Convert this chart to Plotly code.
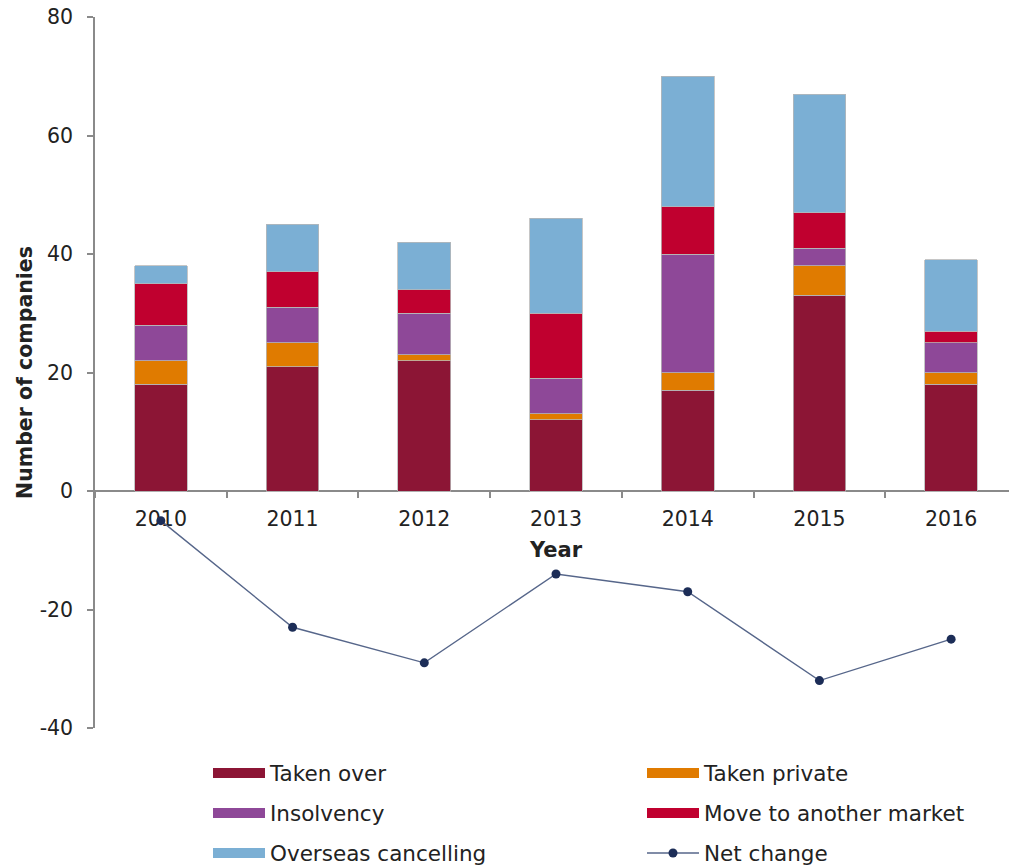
import plotly.graph_objects as go

# ---------- data ----------
years = ["2010", "2011", "2012", "2013", "2014", "2015", "2016"]
taken_over = [18, 21, 22, 12, 17, 33, 18]
taken_private = [4, 4, 1, 1, 3, 5, 2]
insolvency = [6, 6, 7, 6, 20, 3, 5]
move_market = [7, 6, 4, 11, 8, 6, 2]
overseas = [3, 8, 8, 16, 22, 20, 12]
net_change = [-5, -23, -29, -14, -17, -32, -25]

y_ticks = [-40, -20, 0, 20, 40, 60, 80]
y_ticktext = ["-40", "-20", "0", "20", "40", "60", "80"]

SERIES = [
    ("Taken over", taken_over, "#8c1535"),
    ("Taken private", taken_private, "#e07b00"),
    ("Insolvency", insolvency, "#8e4898"),
    ("Move to another market", move_market, "#c0002f"),
    ("Overseas cancelling", overseas, "#7bafd4"),
]

FONT = "DejaVu Sans"
TXT = "#222222"
AX = "#8a8a8a"

# page body adds an 8px offset, so layout is set in figure px = screen px - 8
OFF = 8
PLOT_L, PLOT_R, PLOT_T, PLOT_B = 95 - OFF, 1017 - OFF, 17 - OFF, 728 - OFF
PW, PH = PLOT_R - PLOT_L, PLOT_B - PLOT_T

# legend slots: two columns, three rows (screen px)
LEG_X = [208, 642]
LEG_Y = [773, 813, 853]

fig = go.Figure()

for name, vals, col in SERIES:
    fig.add_bar(
        x=years, y=vals, name=name, marker_color=col,
        marker_line=dict(color="#b8b8b8", width=0.8),
        width=0.4, showlegend=False,
    )

legend_names = ["legend", "legend2", "legend3", "legend4", "legend5", "legend6"]

# legend entries (wide swatches like the original)
for i, (name, vals, col) in enumerate(SERIES):
    fig.add_scatter(
        x=[None], y=[None], mode="lines", name=name,
        line=dict(color=col, width=10), legend=legend_names[i],
    )

fig.add_scatter(
    x=years, y=net_change, mode="lines+markers", name="Net change",
    line=dict(color="#56668a", width=1.4),
    marker=dict(color="#1c2d57", size=9),
    legend=legend_names[5],
)

legends = {}
for i, lg in enumerate(legend_names):
    legends[lg] = dict(
        orientation="h", xanchor="left", yanchor="middle",
        x=(LEG_X[i % 2] - OFF - PLOT_L) / PW,
        y=(PLOT_B - (LEG_Y[i // 2] - OFF)) / PH,
        font=dict(family=FONT, size=21.5, color=TXT),
        itemwidth=52,
        bgcolor="rgba(0,0,0,0)", itemclick=False, itemdoubleclick=False,
    )

fig.update_layout(
    barmode="stack",
    width=1017, height=865,
    margin=dict(l=PLOT_L, r=1017 - PLOT_R, t=PLOT_T, b=865 - PLOT_B, autoexpand=False),
    plot_bgcolor="#ffffff", paper_bgcolor="#ffffff",
    font=dict(family=FONT, size=20, color=TXT),
    **legends,
)

fig.update_xaxes(
    type="category", range=[-0.5, 6.5],
    anchor="free", position=1 / 3,
    showline=True, linecolor=AX, linewidth=1.5,
    ticks="outside", tickson="boundaries", ticklen=6, tickcolor=AX, tickwidth=1.5,
    ticklabelstandoff=10,
    tickfont=dict(family=FONT, size=20.5, color=TXT),
    title=dict(text="<b>Year</b>", font=dict(family=FONT, size=21, color=TXT), standoff=11),
    showgrid=False, layer="below traces", automargin=False,
)

fig.update_yaxes(
    range=[-40, 80], tickvals=y_ticks, ticktext=y_ticktext,
    showline=True, linecolor=AX, linewidth=1.5,
    ticks="outside", ticklen=6, tickcolor=AX, tickwidth=1.5,
    ticklabelstandoff=10, ticklabeloverflow="allow",
    tickfont=dict(family=FONT, size=20.5, color=TXT),
    title=dict(text="<b>Number of companies</b>", font=dict(family=FONT, size=20.5, color=TXT), standoff=1),
    showgrid=False, zeroline=False, automargin=False,
)

fig.write_html("out.html")
